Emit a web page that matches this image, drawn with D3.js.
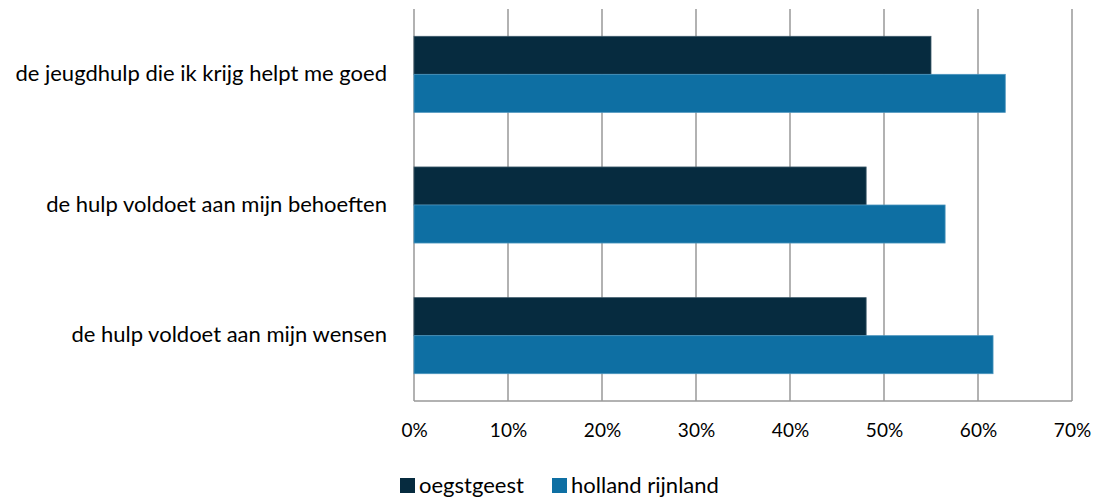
<!DOCTYPE html>
<html><head><meta charset="utf-8">
<script src="https://cdn.jsdelivr.net/npm/d3@7/dist/d3.min.js"></script>
<style>body{margin:0;background:#fff}svg{display:block}text{font-family:Lato,"Open Sans",sans-serif;fill:#000}</style>
</head><body>
<svg id="c" width="1094" height="497"></svg>
<script>
const categories = ["de jeugdhulp die ik krijg helpt me goed", "de hulp voldoet aan mijn behoeften", "de hulp voldoet aan mijn wensen"];
const seriesNames = ["oegstgeest", "holland rijnland"];
const oegstgeest = [0.55, 0.481, 0.481];
const hollandRijnland = [0.629, 0.565, 0.616];
const tickValues = [0, 0.1, 0.2, 0.3, 0.4, 0.5, 0.6, 0.7];
const colors = ["#062b3f", "#0e6fa3"];

const svg = d3.select("#c");
const mLeft = 414, mRight = 1072, mTop = 9, mBottom = 401;
const x = d3.scaleLinear().domain([0, 0.7]).range([mLeft, mRight]);
const y = d3.scaleBand().domain(categories).range([mTop, mBottom]).paddingInner(0.418).paddingOuter(0.209);
const sub = d3.scaleBand().domain(seriesNames).range([0, y.bandwidth()]);

svg.append("g").selectAll("line").data(tickValues).join("line")
  .attr("x1", d => x(d)).attr("x2", d => x(d)).attr("y1", mTop).attr("y2", mBottom)
  .attr("stroke", "#989898").attr("stroke-width", 1.5);
svg.append("line").attr("x1", mLeft).attr("x2", mRight).attr("y1", mBottom).attr("y2", mBottom)
  .attr("stroke", "#989898").attr("stroke-width", 1.5);

const series = [oegstgeest, hollandRijnland];
series.forEach((vals, si) => {
  svg.append("g").selectAll("rect").data(vals).join("rect")
    .attr("x", x(0)).attr("y", (d, i) => y(categories[i]) + sub(seriesNames[si]))
    .attr("width", d => x(d) - x(0)).attr("height", sub.bandwidth())
    .attr("fill", colors[si]).attr("stroke", si === 0 ? "#3d5a6a" : "#4a94bd").attr("stroke-width", 0.8);
});

const xAxis = d3.axisBottom(x).tickValues(tickValues).tickFormat(d3.format(".0%")).tickSize(0).tickPadding(0);
const gx = svg.append("g").attr("transform", `translate(0,${mBottom + 25})`).call(xAxis);
gx.select(".domain").remove();
gx.selectAll("text").attr("font-size", 19).attr("font-family", "Lato, sans-serif").attr("fill", "#000").attr("dy", "0.6em");

const yAxis = d3.axisLeft(y).tickSize(0).tickPadding(0);
const gy = svg.append("g").attr("transform", `translate(${mLeft - 27},0)`).call(yAxis);
gy.select(".domain").remove();
gy.selectAll("text").attr("font-size", 22).attr("font-family", "Lato, sans-serif").attr("fill", "#000").attr("dy", "0.3em");

const legendX = [400, 552];
const lg = svg.append("g");
seriesNames.forEach((n, i) => {
  lg.append("rect").attr("x", legendX[i]).attr("y", 478).attr("width", 15).attr("height", 15).attr("fill", colors[i]);
  lg.append("text").attr("x", legendX[i] + 19).attr("y", 485).attr("dy", "0.35em").attr("font-size", 22).text(n);
});
</script>
</body></html>
